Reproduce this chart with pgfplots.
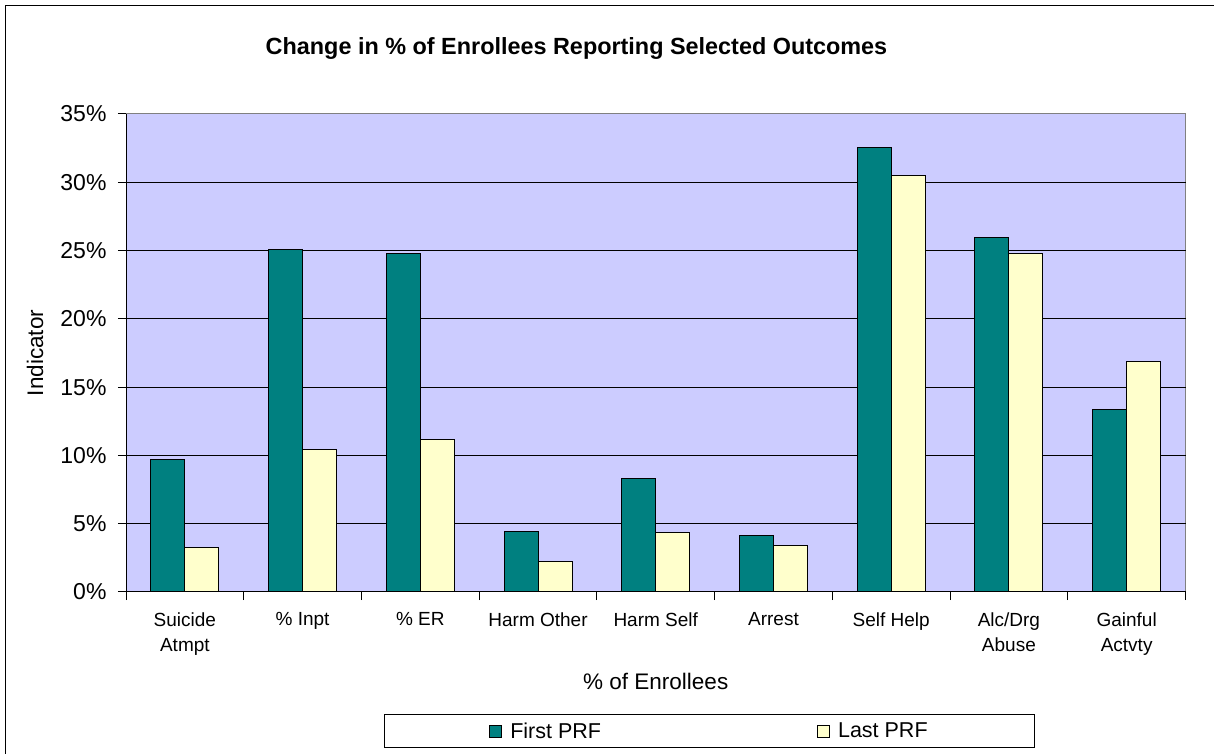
\documentclass[border=0pt]{standalone}
\usepackage{fontspec}
\setmainfont{Liberation Sans}
\usepackage{pgfplots}
\pgfplotsset{compat=1.18,
 sqlegend/.style={legend image code/.code={\draw[##1, draw=black, line width=1pt] (0pt,-6pt) rectangle (12pt,6pt);}}}
\definecolor{tealbar}{RGB}{0,128,128}
\definecolor{lyellow}{RGB}{255,255,204}
\definecolor{lav}{RGB}{204,204,255}
\begin{document}
\begin{tikzpicture}
\useasboundingbox (0pt,0pt) rectangle (1214pt,754pt);
\draw[line width=1.3pt] (5.5pt,-20pt) -- (5.5pt,748.5pt) -- (1240pt,748.5pt);
\begin{axis}[
 at={(126pt,162pt)}, anchor=south west, scale only axis,
 width=1059.5pt, height=478pt,
 xmin=-0.5, xmax=8.5, ymin=0, ymax=35,
 ytick={0,5,10,15,20,25,30},
 extra y ticks={35},
 extra y tick style={grid=none},
 yticklabel={\pgfmathprintnumber{\tick}\%},
 /pgf/number format/assume math mode=true,
 xtick={0,1,2,3,4,5,6,7,8},
 xticklabels={{Suicide\\Atmpt},{\% Inpt},{\% ER},{Harm Other},{Harm Self},{Arrest},{Self Help},{Alc/Drg\\Abuse},{Gainful\\Actvty}},
 xtick style={draw=none},
 extra x ticks={-0.5,0.5,1.5,2.5,3.5,4.5,5.5,6.5,7.5,8.5},
 extra x tick labels={},
 extra x tick style={xtick style={draw=black, line width=1pt}},
 xticklabel style={align=center, font=\fontsize{19}{25}\selectfont, yshift=-9pt},
 yticklabel style={font=\fontsize{23}{27}\selectfont, xshift=-8pt},
 ymajorgrids, grid style={black, line width=1pt},
 tick align=outside, major tick length=8pt,
 tick style={black, line width=1pt},
 axis x line*=bottom, axis y line*=left,
 axis line style={line width=1pt, black, -},
 axis background/.style={fill=lav, draw=gray, line width=1pt},
 ybar=0pt, bar width=34pt, sqlegend,
 title={Change in \% of Enrollees Reporting Selected Outcomes},
 title style={at={(axis description cs:0.4252,1.1255)}, anchor=center, font=\bfseries\fontsize{23.4}{27}\selectfont},
 xlabel={\% of Enrollees},
 xlabel style={at={(axis description cs:0.5,-0.188)}, anchor=center, font=\fontsize{22.5}{26}\selectfont},
 ylabel={Indicator},
 ylabel style={at={(axis description cs:-0.0859,0.5)}, anchor=center, font=\fontsize{22.5}{26}\selectfont},
 legend style={at={(axis description cs:0.5507,-0.2908)}, anchor=center, legend columns=2, draw=black, line width=1pt, inner xsep=105pt, inner ysep=6pt, font=\fontsize{21.5}{24}\selectfont,
   /tikz/every odd column/.append style={column sep=6pt},
   /tikz/every even column/.append style={column sep=214pt}},
]
\addplot[fill=tealbar, draw=black, line width=1pt] coordinates {(0,9.70) (1,25.08) (2,24.77) (3,4.45) (4,8.30) (5,4.13) (6,32.56) (7,25.96) (8,13.34)};
\addplot[fill=lyellow, draw=black, line width=1pt] coordinates {(0,3.27) (1,10.43) (2,11.16) (3,2.20) (4,4.35) (5,3.40) (6,30.53) (7,24.77) (8,16.85)};
\legend{First PRF, Last PRF}
\end{axis}
\end{tikzpicture}
\end{document}
